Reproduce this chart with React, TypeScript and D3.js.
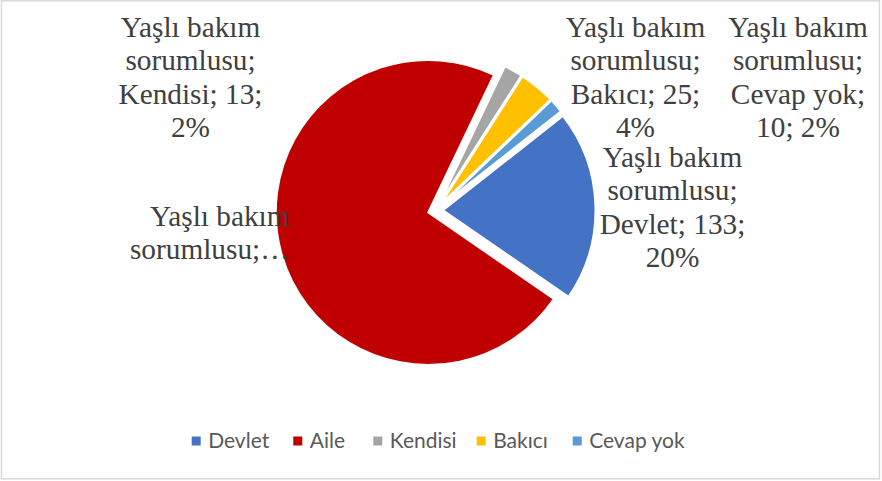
import React, { useMemo } from "react";
import * as d3 from "d3";

// ---- data ----
const seriesName = "Yaşlı bakım sorumlusu";
const categories = ["Devlet", "Aile", "Kendisi", "Bakıcı", "Cevap yok"];
const values = [133, 477, 13, 25, 10];
const colors = ["#4472C4", "#C00000", "#A5A5A5", "#FFC000", "#5B9BD5"];

// ---- layout (not data) ----
const W = 882;
const H = 481;
const CX = 435.5;
const CY = 210.5;
const R = 152.5;
const EXPLODE = 7.5;
const START_DEG = 51.8;
const LABEL_FONT = 29.3;
const LINE_H = 33.4;

// label placement per category: anchor x, first baseline y, alignment, and wrap mode
const labelLayout = [
  { x: 672.5, y: 167, anchor: "middle", mode: "full" },
  { x: 289.5, y: 226, anchor: "end", mode: "truncated" },
  { x: 190.5, y: 37, anchor: "middle", mode: "full" },
  { x: 635.5, y: 37, anchor: "middle", mode: "full" },
  { x: 798, y: 37, anchor: "middle", mode: "split" },
];

const legendMarkerX = [191.7, 293.3, 373.3, 476.7, 572.7];

function labelLines(i: number, total: number): string[] {
  const [a, b] = ["Yaşlı bakım", "sorumlusu;"];
  const v = values[i];
  const pct = Math.round((v / total) * 100);
  const mode = labelLayout[i].mode;
  if (mode === "truncated") return [a, "sorumlusu;…"];
  if (mode === "split") return [a, b, `${categories[i]};`, `${v}; ${pct}%`];
  return [a, b, `${categories[i]}; ${v};`, `${pct}%`];
}

export default function App() {
  const total = d3.sum(values);
  const arcs = useMemo(() => {
    const sa = (START_DEG * Math.PI) / 180;
    return d3
      .pie<number>()
      .sort(null)
      .value((d) => d)
      .startAngle(sa)
      .endAngle(sa + 2 * Math.PI)(values);
  }, []);
  const arcGen = d3.arc<d3.PieArcDatum<number>>().innerRadius(0).outerRadius(R);

  return (
    <svg
      width={W}
      height={H}
      style={{ position: "absolute", left: 0, top: 0, background: "#fff" }}
    >
      <rect x={0} y={0} width={W} height={H} fill="#fff" />
      <rect
        x={1.5}
        y={0.75}
        width={878}
        height={478}
        fill="none"
        stroke="#D9D9D9"
        strokeWidth={1.5}
      />
      <g transform={`translate(${CX},${CY})`}>
        {arcs.map((a, i) => {
          const mid = (a.startAngle + a.endAngle) / 2;
          const dx = EXPLODE * Math.sin(mid);
          const dy = -EXPLODE * Math.cos(mid);
          return (
            <path
              key={categories[i]}
              d={arcGen(a) || ""}
              transform={`translate(${dx},${dy})`}
              fill={colors[i]}
              stroke="#fff"
              strokeWidth={2}
              strokeLinejoin="miter"
            />
          );
        })}
      </g>
      <g
        fontFamily="'Liberation Serif', 'Times New Roman', serif"
        fontSize={LABEL_FONT}
        fill="#404040"
      >
        {categories.map((c, i) => {
          const L = labelLayout[i];
          return (
            <text key={c} textAnchor={L.anchor as any}>
              {labelLines(i, total).map((ln, k) => (
                <tspan key={k} x={L.x} y={L.y + k * LINE_H}>
                  {ln}
                </tspan>
              ))}
            </text>
          );
        })}
      </g>
      <g fontFamily="Lato, 'Open Sans', sans-serif" fontSize={21} fill="#595959">
        {categories.map((c, i) => (
          <g key={c}>
            <rect x={legendMarkerX[i]} y={436.5} width={9} height={9} fill={colors[i]} />
            <text x={legendMarkerX[i] + 16.5} y={447.8}>
              {c}
            </text>
          </g>
        ))}
      </g>
    </svg>
  );
}
